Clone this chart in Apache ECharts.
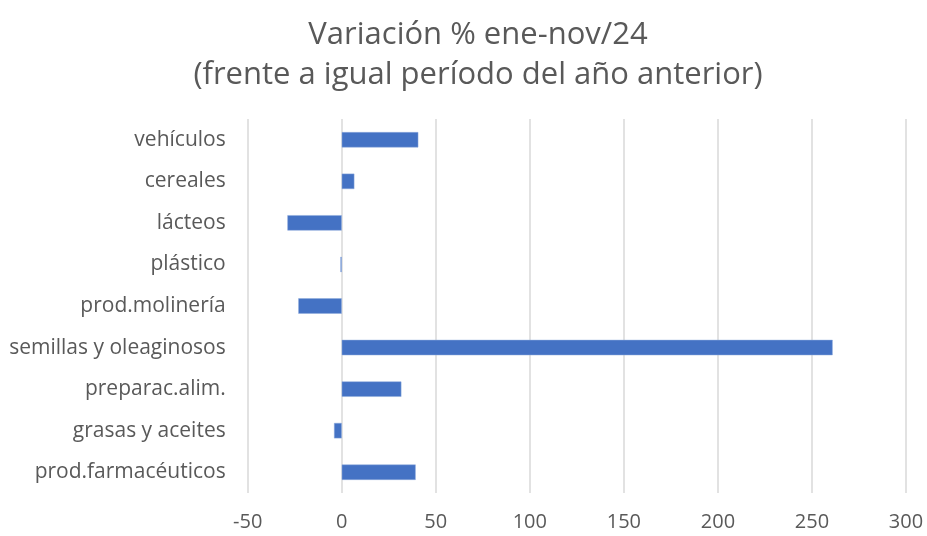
<!DOCTYPE html>
<html>
<head>
<meta charset="utf-8">
<script src="https://cdn.jsdelivr.net/npm/echarts@6/dist/echarts.min.js"></script>
<style>html,body{margin:0;padding:0;background:#fff}#c{width:927px;height:536px}</style>
</head>
<body>
<div id="c"></div>
<script>
const categories = ["vehículos","cereales","lácteos","plástico","prod.molinería","semillas y oleaginosos","preparac.alim.","grasas y aceites","prod.farmacéuticos"];
const values = [40.7, 6.7, -28.9, -0.7, -23.1, 261, 31.7, -4.1, 39.3];
const titleText = "Variación % ene-nov/24\n(frente a igual período del año anterior)";

const chart = echarts.init(document.getElementById('c'));
const font = "'Open Sans', 'Noto Sans', sans-serif";
chart.setOption({
  animation: false,
  title: {
    text: titleText,
    left: 473,
    textAlign: 'center',
    top: 10,
    textStyle: {fontFamily: font, fontSize: 31, fontWeight: 'normal', color: '#595959', lineHeight: 40}
  },
  grid: {left: 247.7, right: 21, top: 119, bottom: 43, containLabel: false},
  xAxis: {
    type: 'value', min: -50, max: 300, interval: 50,
    axisLine: {show: false}, axisTick: {show: false},
    splitLine: {lineStyle: {color: '#d9d9d9', width: 1.5}},
    axisLabel: {fontFamily: font, fontSize: 20, color: '#595959', margin: 19}
  },
  yAxis: {
    type: 'category', data: categories, inverse: true,
    axisLine: {show: false}, axisTick: {show: false},
    axisLabel: {fontFamily: font, fontSize: 21, color: '#595959', margin: 22}
  },
  series: [{
    type: 'bar', data: values, barCategoryGap: '63%',
    itemStyle: {color: '#4472C4', borderColor: '#8faadc', borderWidth: 0.5}
  }]
});
</script>
</body>
</html>
